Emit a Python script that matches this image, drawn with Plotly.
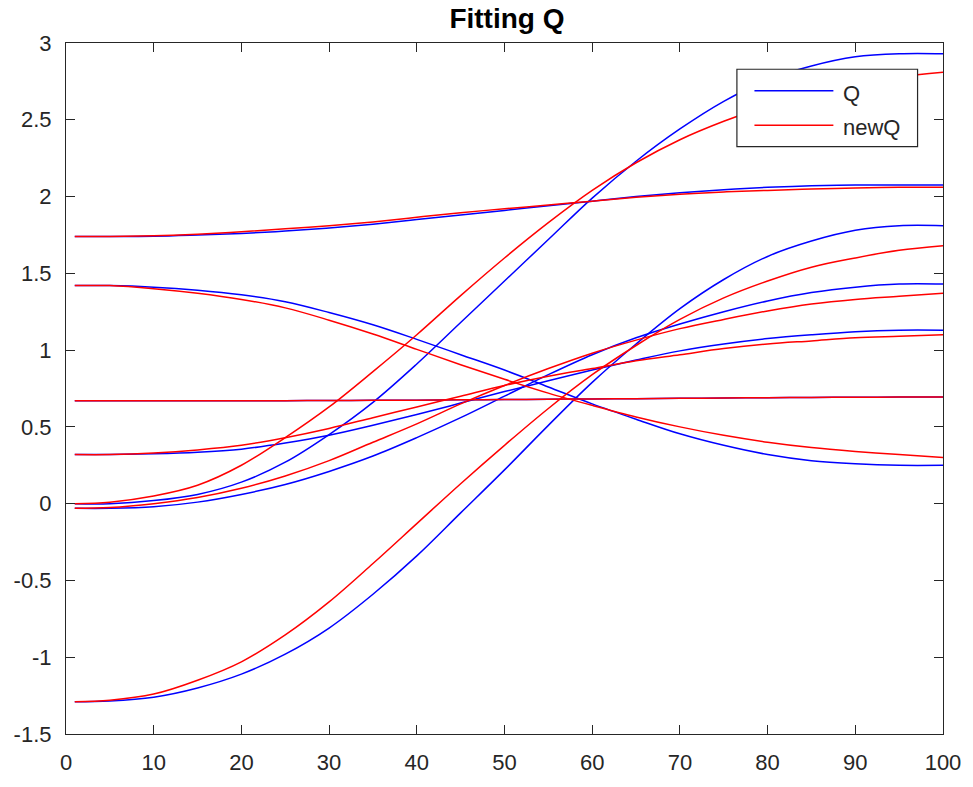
import plotly.graph_objects as go

# sample positions along the x axis
x = [1, 5, 10, 15, 20, 25, 30, 35, 40, 45, 50, 55, 60, 65, 70, 75, 80, 85, 90, 95, 100]

# Q (blue) curves
q1 = [1.74, 1.74, 1.742, 1.75, 1.76, 1.775, 1.795, 1.82, 1.85, 1.88, 1.91, 1.94, 1.97, 2.0, 2.025, 2.045, 2.06, 2.07, 2.075, 2.075, 2.075]
q2 = [1.42, 1.42, 1.41, 1.39, 1.36, 1.315, 1.245, 1.165, 1.07, 0.97, 0.87, 0.76, 0.65, 0.55, 0.455, 0.38, 0.32, 0.28, 0.26, 0.25, 0.25]
q3 = [0.67, 0.67, 0.67, 0.67, 0.67, 0.671, 0.672, 0.673, 0.674, 0.676, 0.678, 0.68, 0.682, 0.684, 0.686, 0.688, 0.69, 0.692, 0.693, 0.694, 0.695]
q4 = [0.32, 0.32, 0.325, 0.335, 0.355, 0.395, 0.445, 0.51, 0.58, 0.655, 0.73, 0.80, 0.87, 0.935, 0.995, 1.04, 1.075, 1.10, 1.12, 1.13, 1.13]
q5 = [0.0, 0.0, 0.02, 0.06, 0.14, 0.27, 0.45, 0.66, 0.91, 1.18, 1.45, 1.72, 1.99, 2.23, 2.44, 2.62, 2.76, 2.85, 2.91, 2.93, 2.93]
q6 = [-0.03, -0.03, -0.02, 0.01, 0.06, 0.125, 0.21, 0.31, 0.43, 0.56, 0.70, 0.84, 0.97, 1.08, 1.17, 1.25, 1.32, 1.375, 1.41, 1.43, 1.43]
q7 = [-1.29, -1.285, -1.26, -1.20, -1.11, -0.98, -0.81, -0.59, -0.34, -0.06, 0.22, 0.51, 0.79, 1.04, 1.27, 1.46, 1.61, 1.71, 1.78, 1.81, 1.81]

# newQ (red) curves
n1 = [1.74, 1.74, 1.745, 1.755, 1.77, 1.79, 1.81, 1.835, 1.865, 1.895, 1.92, 1.945, 1.97, 1.995, 2.015, 2.03, 2.04, 2.05, 2.055, 2.06, 2.06]
n2 = [1.42, 1.42, 1.40, 1.37, 1.33, 1.275, 1.195, 1.105, 1.005, 0.905, 0.81, 0.72, 0.64, 0.565, 0.50, 0.445, 0.40, 0.365, 0.34, 0.32, 0.30]
n3 = [0.67, 0.67, 0.67, 0.67, 0.67, 0.671, 0.672, 0.673, 0.674, 0.676, 0.678, 0.68, 0.682, 0.684, 0.686, 0.688, 0.69, 0.692, 0.693, 0.694, 0.695]
n4 = [0.32, 0.32, 0.33, 0.35, 0.38, 0.43, 0.49, 0.56, 0.63, 0.70, 0.77, 0.83, 0.88, 0.93, 0.97, 1.01, 1.04, 1.06, 1.08, 1.09, 1.10]
n5 = [0.0, 0.01, 0.05, 0.12, 0.25, 0.43, 0.63, 0.86, 1.10, 1.355, 1.60, 1.83, 2.04, 2.22, 2.37, 2.49, 2.59, 2.67, 2.73, 2.78, 2.81]
n6 = [-0.03, -0.025, 0.0, 0.04, 0.10, 0.18, 0.28, 0.40, 0.52, 0.65, 0.77, 0.88, 0.98, 1.065, 1.14, 1.20, 1.255, 1.30, 1.33, 1.35, 1.37]
n7 = [-1.29, -1.28, -1.24, -1.15, -1.03, -0.855, -0.64, -0.39, -0.13, 0.13, 0.38, 0.62, 0.84, 1.03, 1.20, 1.34, 1.45, 1.54, 1.60, 1.65, 1.68]

q_series = [q1, q2, q3, q4, q5, q6, q7]
newq_series = [n1, n2, n3, n4, n5, n6, n7]

x_ticks = [0, 10, 20, 30, 40, 50, 60, 70, 80, 90, 100]
x_tick_labels = ["0", "10", "20", "30", "40", "50", "60", "70", "80", "90", "100"]
y_ticks = [-1.5, -1, -0.5, 0, 0.5, 1, 1.5, 2, 2.5, 3]
y_tick_labels = ["-1.5", "-1", "-0.5", "0", "0.5", "1", "1.5", "2", "2.5", "3"]

title_text = "Fitting Q"
legend_labels = ["Q", "newQ"]
BLUE = "rgb(0,0,255)"
RED = "rgb(255,0,0)"
AXC = "#262626"
FONT = "Arial, 'Liberation Sans', Helvetica, sans-serif"

fig = go.Figure()
for ys in q_series:
    fig.add_trace(go.Scatter(x=x, y=ys, mode="lines", name=legend_labels[0],
                             legendgroup="Q", showlegend=False,
                             line=dict(color=BLUE, width=1.5, shape="spline", smoothing=1.0)))
for ys in newq_series:
    fig.add_trace(go.Scatter(x=x, y=ys, mode="lines", name=legend_labels[1],
                             legendgroup="newQ", showlegend=False,
                             line=dict(color=RED, width=1.5, shape="spline", smoothing=1.0)))

# legend drawn in MATLAB style (paper coordinates)
L, R, T, B = 0.765, 0.971, 0.962, 0.850
shapes = [
    dict(type="rect", xref="paper", yref="paper", x0=L, x1=R, y0=B, y1=T,
         line=dict(color=AXC, width=1.2), fillcolor="white", layer="above"),
    dict(type="line", xref="paper", yref="paper", x0=0.785, x1=0.875, y0=0.931, y1=0.931,
         line=dict(color=BLUE, width=1.5), layer="above"),
    dict(type="line", xref="paper", yref="paper", x0=0.785, x1=0.875, y0=0.881, y1=0.881,
         line=dict(color=RED, width=1.5), layer="above"),
]
annotations = [
    dict(text=legend_labels[0], xref="paper", yref="paper", x=0.884, y=0.927,
         xanchor="left", yanchor="middle", showarrow=False,
         font=dict(family=FONT, size=22, color=AXC)),
    dict(text=legend_labels[1], xref="paper", yref="paper", x=0.884, y=0.878,
         xanchor="left", yanchor="middle", showarrow=False,
         font=dict(family=FONT, size=22, color=AXC)),
]

fig.update_layout(
    width=973, height=787,
    margin=dict(l=66, r=25, t=43, b=47),
    paper_bgcolor="white", plot_bgcolor="white",
    showlegend=False,
    title=dict(text="<b>" + title_text + "</b>", x=0.521, xanchor="center",
               y=0.977, yanchor="middle", yref="container",
               font=dict(family=FONT, size=28, color="black")),
    font=dict(family=FONT, size=22, color=AXC),
    shapes=shapes, annotations=annotations,
)
fig.update_xaxes(range=[0, 100], tickvals=x_ticks, ticktext=x_tick_labels,
                 ticks="inside", ticklen=9, tickwidth=1.2, tickcolor=AXC,
                 showline=True, linecolor=AXC, linewidth=1.2, mirror="ticks",
                 showgrid=False, zeroline=False, ticklabelstandoff=8,
                 tickfont=dict(family=FONT, size=22, color=AXC))
fig.update_yaxes(range=[-1.5, 3], tickvals=y_ticks, ticktext=y_tick_labels,
                 ticks="inside", ticklen=9, tickwidth=1.2, tickcolor=AXC,
                 showline=True, linecolor=AXC, linewidth=1.2, mirror="ticks",
                 showgrid=False, zeroline=False, ticklabelstandoff=9,
                 tickfont=dict(family=FONT, size=22, color=AXC))

fig.write_html("out.html")
